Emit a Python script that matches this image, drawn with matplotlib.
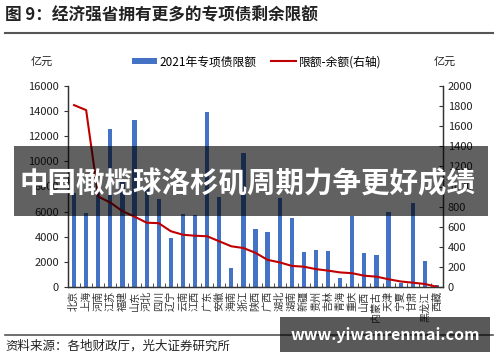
import numpy as np
import matplotlib
matplotlib.use("Agg")
import matplotlib.pyplot as plt
from matplotlib.patches import Rectangle

plt.rcParams['font.family'] = ['Noto Sans CJK SC', 'DejaVu Sans']

provinces = ['北京', '上海', '河南', '江苏', '福建', '山东', '河北', '四川', '辽宁', '云南',
             '江西', '广东', '安徽', '海南', '浙江', '陕西', '广西', '湖北', '湖南', '新疆',
             '贵州', '吉林', '青海', '重庆', '山西', '内蒙古', '天津', '宁夏', '甘肃', '黑龙江', '西藏']
limit_2021 = [7500, 5900, 8000, 12600, 8400, 13300, 8000, 7000, 3900, 5800,
              5750, 13950, 7200, 1500, 10700, 4600, 4400, 7050, 5500, 2760,
              2950, 2900, 690, 5650, 2680, 2550, 5950, 300, 6650, 2070, 150]
headroom = [1810, 1760, 900, 840, 755, 700, 640, 635, 555, 520,
            510, 505, 455, 405, 388, 340, 270, 245, 210, 202,
            178, 163, 145, 137, 112, 103, 77, 55, 43, 30, 2]

BLUE = '#4472C4'
RED = '#C00000'

fig = plt.figure(figsize=(5, 3.62), dpi=100)
W, H = 500, 362

ax = fig.add_axes([68 / W, 1 - 287 / H, 375 / W, 201 / H])
ax2 = ax.twinx()

x = np.arange(len(provinces))
bars = ax.bar(x, limit_2021, width=0.35, color=BLUE, label='2021年专项债限额', zorder=2)
line, = ax2.plot(x, headroom, color=RED, lw=1.5, label='限额-余额(右轴)', zorder=3)

ax.set_xlim(-0.5, len(provinces) - 0.5)
ax.set_ylim(0, 16000)
ax2.set_ylim(0, 2000)
ax.set_yticks(np.arange(0, 16001, 2000))
ax2.set_yticks(np.arange(0, 2001, 200))

ax.set_xticks(x)
ax.set_xticklabels(provinces, rotation=90, fontsize=7.3, color='#333333')
ax.tick_params(axis='x', length=0, pad=3)
ax.set_xticks(np.arange(-0.5, len(provinces), 1), minor=True)
ax.tick_params(axis='x', which='minor', direction='in', length=3, color='#333333')
ax.tick_params(axis='y', labelsize=8, length=3, color='#333333', labelcolor='#222222')
ax2.tick_params(axis='y', labelsize=8, length=3, direction='in', color='#333333', labelcolor='#222222')

for a in (ax, ax2):
    a.spines['top'].set_visible(False)
    for s in ('left', 'right', 'bottom'):
        a.spines[s].set_color('#333333')
        a.spines[s].set_linewidth(0.9)
ax2.set_zorder(ax.get_zorder() + 1)
ax2.patch.set_visible(False)

# units and legend
fig.text(42 / W, 1 - 62 / H, '亿元', fontsize=8, ha='center', va='center', color='#222222')
fig.text(445 / W, 1 - 62 / H, '亿元', fontsize=8, ha='center', va='center', color='#222222')
leg1 = fig.legend([bars], ['2021年专项债限额'], loc='center left',
                  bbox_to_anchor=(126 / W, 1 - 62 / H), frameon=False, fontsize=8.5,
                  handlelength=2.1, handleheight=0.35, handletextpad=0.25, borderpad=0)
leg2 = fig.legend([line], ['限额-余额(右轴)'], loc='center left',
                  bbox_to_anchor=(265 / W, 1 - 62 / H), frameon=False, fontsize=8.5,
                  handlelength=2.1, handletextpad=0.25, borderpad=0)

# title and rules
fig.text(5 / W, 1 - 15 / H, '图 9：经济强省拥有更多的专项债剩余限额', fontsize=12,
         fontweight='bold', ha='left', va='center', color='#222222')
fig.add_artist(plt.Line2D([5 / W, 493 / W], [1 - 33 / H, 1 - 33 / H], color='#555555', lw=1.5))
fig.add_artist(plt.Line2D([5 / W, 493 / W], [1 - 335 / H, 1 - 335 / H], color='#555555', lw=1.2))
fig.text(5 / W, 1 - 346 / H, '资料来源：各地财政厅，光大证券研究所', fontsize=9,
         ha='left', va='center', color='#222222')

# overlay banner
fig.add_artist(Rectangle((14 / W, 1 - 216 / H), 474 / W, 70 / H, transform=fig.transFigure,
                         facecolor='black', alpha=0.62, edgecolor='none', zorder=10))
fig.text(248 / W, 1 - 184 / H, '中国橄榄球洛杉矶周期力争更好成绩', fontsize=20.5,
         fontweight='bold', ha='center', va='center', color='white', zorder=11)

# watermark box
fig.add_artist(Rectangle((280 / W, 1 - 352 / H), 210 / W, 35 / H, transform=fig.transFigure,
                         facecolor='black', alpha=0.65, edgecolor='none', zorder=10))
fig.text(385 / W, 1 - 335 / H, 'www.yiwanrenmai.com', fontsize=11.5, fontweight='bold',
         ha='center', va='center', color='white', zorder=11)

fig.savefig('out.png', dpi=100)
